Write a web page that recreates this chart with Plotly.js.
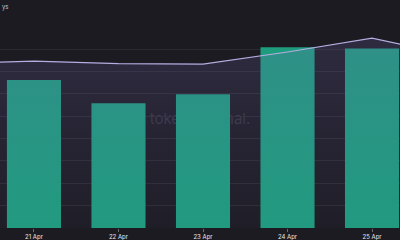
<!DOCTYPE html>
<html>
<head>
<meta charset="utf-8">
<script src="https://cdn.plot.ly/plotly-3.0.1.min.js"></script>
<style>
  html, body { margin: 0; padding: 0; background: #1c1b22; }
  #chart { width: 400px; height: 240px; }
</style>
</head>
<body>
<div id="chart"></div>
<script>
// Days on the axis (the first and last sit just outside the visible window)
const days = ["20 Apr", "21 Apr", "22 Apr", "23 Apr", "24 Apr", "25 Apr", "26 Apr"];

// Daily bars
const barDays = ["21 Apr", "22 Apr", "23 Apr", "24 Apr", "25 Apr"];
const barValues = [33.1, 27.9, 29.9, 40.4, 40.1];

// Trend line (secondary axis)
const lineDays = ["20 Apr", "21 Apr", "22 Apr", "23 Apr", "24 Apr", "25 Apr", "26 Apr"];
const lineValues = [72.1, 73.2, 72.1, 71.9, 77.2, 83.3, 75.4];

// Grid levels on the bar axis
const gridLevels = [0, 5, 10, 15, 20, 25, 30, 35, 40];

const bars = {
  type: "bar",
  x: barDays,
  y: barValues,
  marker: { color: "#1e9c7e", line: { width: 0 } },
  hoverinfo: "skip"
};

const line = {
  type: "scatter",
  mode: "lines",
  x: lineDays,
  y: lineValues,
  yaxis: "y2",
  line: { color: "#b3ade0", width: 1.2 },
  fill: "tozeroy",
  fillgradient: {
    type: "vertical",
    colorscale: [
      [0, "rgba(110,100,170,0.04)"],
      [1, "rgba(110,100,170,0.22)"]
    ]
  },
  hoverinfo: "skip"
};

const layout = {
  width: 400,
  height: 240,
  paper_bgcolor: "#1c1b22",
  plot_bgcolor: "#1c1b22",
  margin: { l: 0, r: 0, t: 0, b: 12, pad: 0 },
  showlegend: false,
  bargap: 0.36,
  font: { family: "Inter, 'DejaVu Sans', sans-serif", color: "#e6e6ea" },
  xaxis: {
    type: "category",
    categoryorder: "array",
    categoryarray: days,
    range: [0.598, 5.331],
    showgrid: false,
    zeroline: false,
    showline: false,
    ticks: "outside",
    ticklen: 3,
    tickwidth: 1,
    tickcolor: "#6a6875",
    tickfont: { size: 6, color: "#e6e6ea" },
    automargin: false,
    fixedrange: true
  },
  yaxis: {
    range: [0, 50.95],
    tickmode: "array",
    tickvals: gridLevels,
    showgrid: true,
    gridcolor: "#2b2a33",
    gridwidth: 1,
    zeroline: false,
    showline: false,
    showticklabels: false,
    automargin: false,
    fixedrange: true
  },
  yaxis2: {
    overlaying: "y",
    side: "right",
    range: [0, 100],
    showgrid: false,
    zeroline: false,
    showline: false,
    showticklabels: false,
    automargin: false,
    fixedrange: true
  },
  shapes: [
    {
      type: "rect",
      xref: "paper", yref: "paper",
      x0: 0.3, x1: 0.7, y0: 0.38, y1: 0.58,
      layer: "below",
      line: { width: 0 },
      fillcolor: "rgba(0,0,0,0)",
      label: {
        text: "tokenterminal.",
        font: { size: 15, color: "rgba(120,118,135,0.28)", family: "Inter, sans-serif" },
        textposition: "middle center"
      }
    }
  ],
  annotations: [
    {
      text: "ys",
      xref: "paper", yref: "paper",
      x: 0, y: 1,
      xanchor: "left", yanchor: "top",
      yshift: -1,
      showarrow: false,
      font: { size: 6, color: "#c9c8d0" }
    }
  ]
};

Plotly.newPlot("chart", [line, bars], layout, { displayModeBar: false, staticPlot: true });
</script>
</body>
</html>
